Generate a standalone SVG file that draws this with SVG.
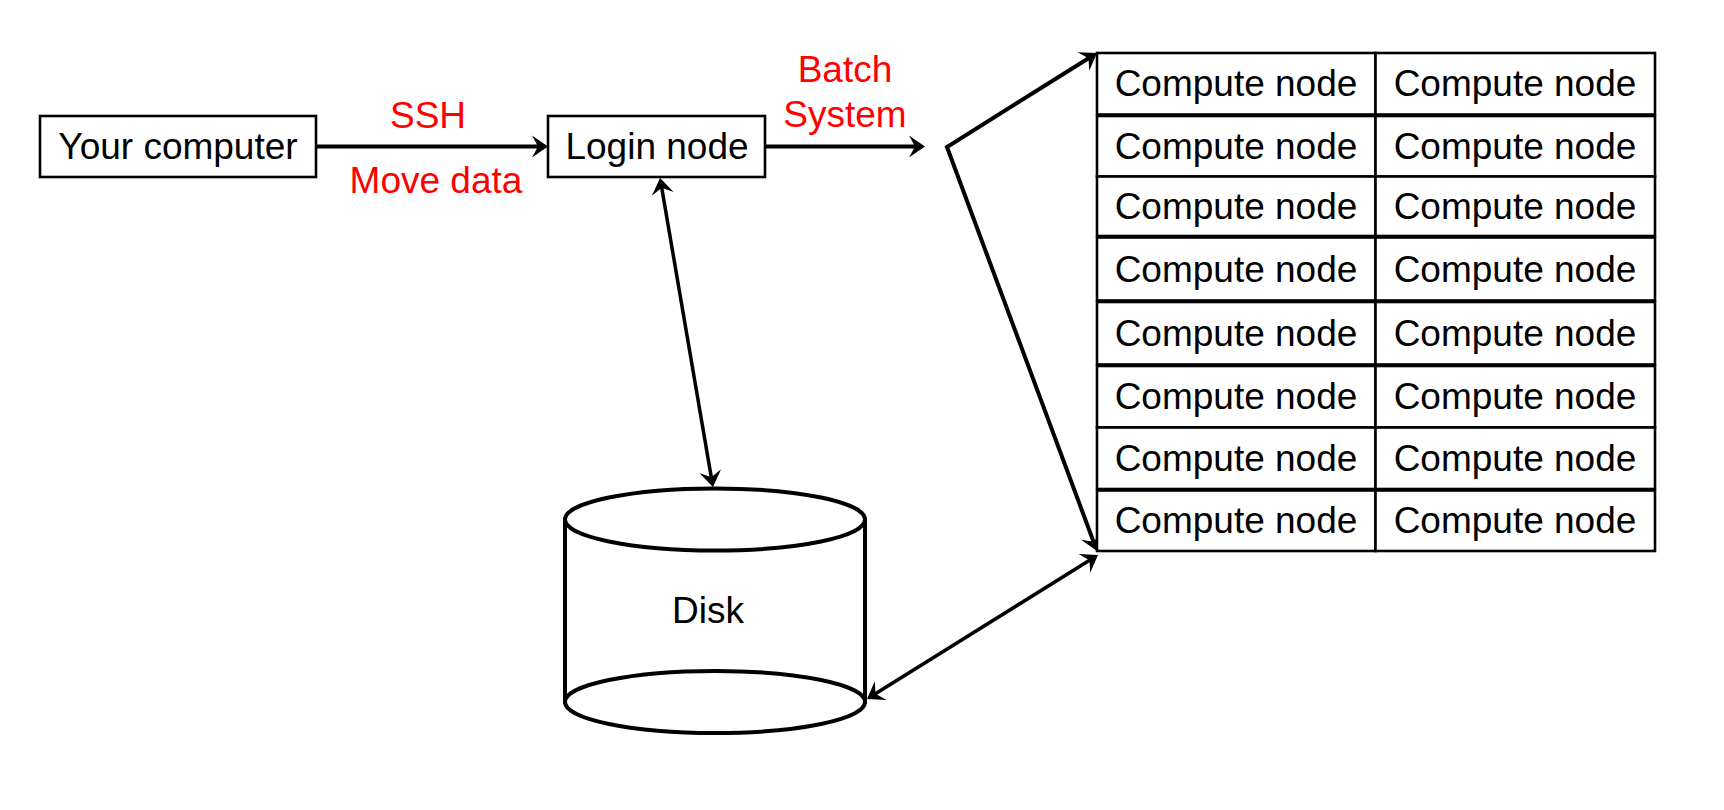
<svg xmlns="http://www.w3.org/2000/svg" width="1724" height="810" viewBox="0 0 1724 810">
<style>
text{font-family:"Liberation Sans",Arial,Helvetica,sans-serif;font-size:37px;text-anchor:middle;fill:#000}
.lbl{fill:#ff0000}
.box{fill:#fff;stroke:#000;stroke-width:2.6}
.conn{fill:none;stroke:#000;stroke-width:4;stroke-linejoin:miter}
.thin{stroke-width:3.5}
.disk{fill:#fff;stroke:#000;stroke-width:4}
</style>
<defs>
<marker id="arr" markerUnits="userSpaceOnUse" viewBox="-9 -12 18 24" refX="0" refY="0" markerWidth="18" markerHeight="24" orient="auto-start-reverse">
<path d="M8,0 L-8,-11 L-2,0 L-8,11 Z" fill="#000"/>
</marker>
</defs>
<rect width="1724" height="810" fill="#fff"/>
<g id="connectors">
<line class="conn" x1="316" y1="146.5" x2="540" y2="146.5" marker-end="url(#arr)"/>
<line class="conn" x1="765" y1="146.5" x2="917" y2="146.5" marker-end="url(#arr)"/>
<path class="conn" d="M1090.2,57.2 L947,147 L1094.2,543.5" marker-start="url(#arr)" marker-end="url(#arr)"/>
<line class="conn thin" x1="661.4" y1="185.9" x2="711.6" y2="479.1" marker-start="url(#arr)" marker-end="url(#arr)"/>
<line class="conn thin" x1="873.8" y1="694.8" x2="1091.2" y2="559.2" marker-start="url(#arr)" marker-end="url(#arr)"/>
</g>
<g id="labels">
<text class="lbl" x="428" y="128">SSH</text>
<text class="lbl" x="436" y="193">Move data</text>
<text class="lbl" x="845" y="82">Batch</text>
<text class="lbl" x="845" y="127">System</text>
</g>
<g id="your-computer">
<rect class="box" x="40" y="116" width="276" height="61"/>
<text x="178" y="159">Your computer</text>
</g>
<g id="login-node">
<rect class="box" x="548" y="116" width="217" height="61"/>
<text x="657" y="159">Login node</text>
</g>
<g id="disk">
<path class="disk" d="M565,519.5 L565,702 L865,702 L865,519.5 Z" stroke="none"/>
<line x1="565" y1="519.5" x2="565" y2="702" stroke="#000" stroke-width="4"/>
<line x1="865" y1="519.5" x2="865" y2="702" stroke="#000" stroke-width="4"/>
<ellipse class="disk" cx="715" cy="519.5" rx="150" ry="31"/>
<ellipse class="disk" cx="715" cy="702" rx="150" ry="31"/>
<text x="708" y="623">Disk</text>
</g>
<g id="compute-nodes">
<g id="row1"><rect class="box" x="1097" y="53" width="278.5" height="61.5"/><rect class="box" x="1375.5" y="53" width="279.5" height="61.5"/><text x="1236" y="96.2">Compute node</text><text x="1515" y="96.2">Compute node</text></g>
<g id="row2"><rect class="box" x="1097" y="116" width="278.5" height="60.5"/><rect class="box" x="1375.5" y="116" width="279.5" height="60.5"/><text x="1236" y="158.7">Compute node</text><text x="1515" y="158.7">Compute node</text></g>
<g id="row3"><rect class="box" x="1097" y="176.5" width="278.5" height="59.5"/><rect class="box" x="1375.5" y="176.5" width="279.5" height="59.5"/><text x="1236" y="218.7">Compute node</text><text x="1515" y="218.7">Compute node</text></g>
<g id="row4"><rect class="box" x="1097" y="237.5" width="278.5" height="63"/><rect class="box" x="1375.5" y="237.5" width="279.5" height="63"/><text x="1236" y="281.5">Compute node</text><text x="1515" y="281.5">Compute node</text></g>
<g id="row5"><rect class="box" x="1097" y="302" width="278.5" height="62.5"/><rect class="box" x="1375.5" y="302" width="279.5" height="62.5"/><text x="1236" y="345.7">Compute node</text><text x="1515" y="345.7">Compute node</text></g>
<g id="row6"><rect class="box" x="1097" y="366" width="278.5" height="61.5"/><rect class="box" x="1375.5" y="366" width="279.5" height="61.5"/><text x="1236" y="409.2">Compute node</text><text x="1515" y="409.2">Compute node</text></g>
<g id="row7"><rect class="box" x="1097" y="427.5" width="278.5" height="61.5"/><rect class="box" x="1375.5" y="427.5" width="279.5" height="61.5"/><text x="1236" y="470.7">Compute node</text><text x="1515" y="470.7">Compute node</text></g>
<g id="row8"><rect class="box" x="1097" y="490.5" width="278.5" height="60.5"/><rect class="box" x="1375.5" y="490.5" width="279.5" height="60.5"/><text x="1236" y="533.2">Compute node</text><text x="1515" y="533.2">Compute node</text></g>
</g>
</svg>
